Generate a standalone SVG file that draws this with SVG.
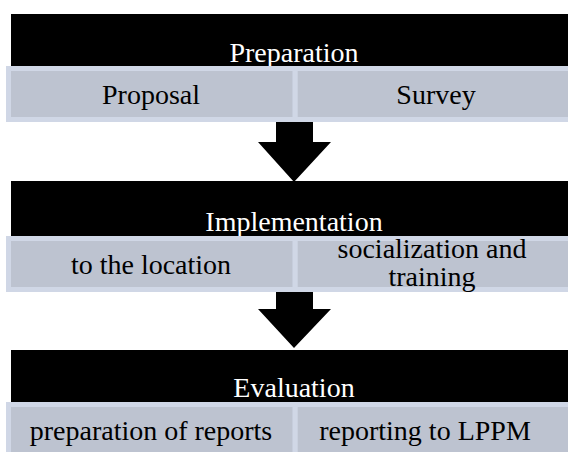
<svg xmlns="http://www.w3.org/2000/svg" width="568" height="452" viewBox="0 0 568 452">
<style>
.hdr{fill:#000000;}
.cell{fill:#bdc3d0;stroke:#d0d7e6;stroke-width:5;}
text{font-family:'Liberation Serif','Times New Roman',serif;font-size:28px;text-anchor:middle;}
.ht{fill:#ffffff;}
.ct{fill:#000000;}
.arrow{fill:#000000;}
</style>
<rect width="568" height="452" fill="#ffffff"/>
<g id="connectors">
<polygon class="arrow" points="276,122 313,122 313,142 331,142 294,182 258,142 276,142"/>
<polygon class="arrow" points="276,292 313,292 313,309 331,309 294,348 258,309 276,309"/>
</g>
<g id="preparation">
<rect class="hdr" x="11" y="14" width="570" height="52"/>
<text class="ht" x="294" y="62">Preparation</text>
</g>
<g id="proposal">
<rect class="cell" x="8.5" y="68.5" width="286.7" height="51"/>
<text class="ct" x="151" y="103.5">Proposal</text>
</g>
<g id="survey">
<rect class="cell" x="295.2" y="68.5" width="290" height="51"/>
<text class="ct" x="436" y="103.5">Survey</text>
</g>
<g id="implementation">
<rect class="hdr" x="11" y="181" width="570" height="55"/>
<text class="ht" x="294" y="231">Implementation</text>
</g>
<g id="location">
<rect class="cell" x="8.5" y="238.5" width="286.7" height="51"/>
<text class="ct" x="151" y="274">to the location</text>
</g>
<g id="socialization">
<rect class="cell" x="295.2" y="238.5" width="290" height="51"/>
<text class="ct" x="432" y="258">socialization and</text>
<text class="ct" x="432" y="286">training</text>
</g>
<g id="evaluation">
<rect class="hdr" x="11" y="350" width="570" height="52"/>
<text class="ht" x="294" y="397">Evaluation</text>
</g>
<g id="reports">
<rect class="cell" x="8.5" y="404.5" width="286.7" height="51"/>
<text class="ct" x="151" y="440">preparation of reports</text>
</g>
<g id="lppm">
<rect class="cell" x="295.2" y="404.5" width="290" height="51"/>
<text class="ct" x="425" y="440">reporting to LPPM</text>
</g>
</svg>
